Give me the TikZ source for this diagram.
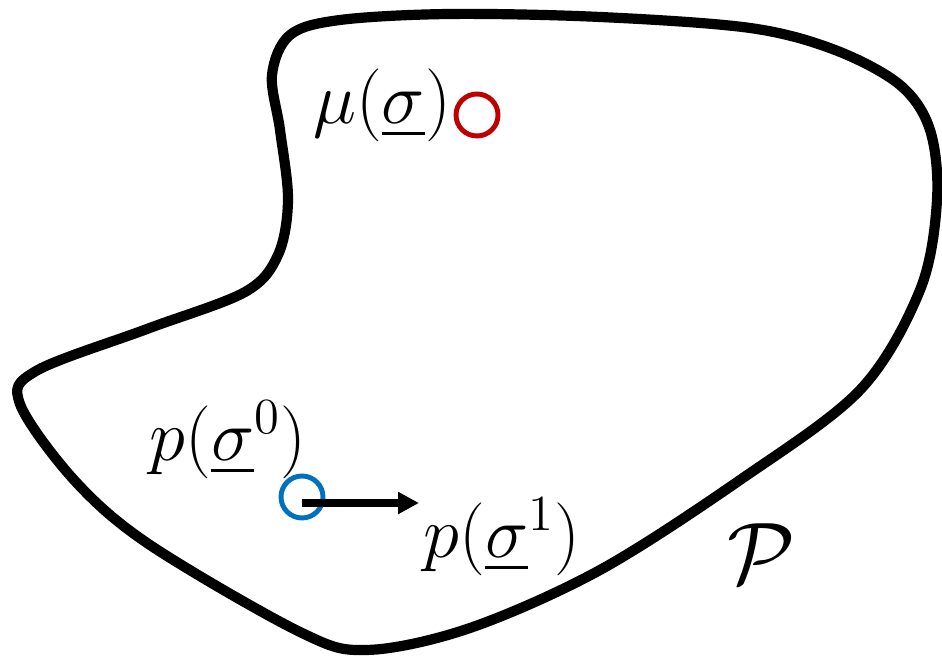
\documentclass[tikz,border=0pt]{standalone}
\usepackage{amsmath,amssymb}
\usetikzlibrary{positioning,arrows.meta}

\definecolor{darkred}{RGB}{192,0,0}
\definecolor{midblue}{RGB}{0,112,192}

\begin{document}
\begin{tikzpicture}[every node/.style={font=\fontsize{21}{25}\selectfont},
  marker/.style={circle, line width=1.4pt, minimum size=4.2mm, inner sep=0pt}]
\useasboundingbox (0,0) rectangle (9.42,6.59);

\draw[line width=2.9pt, line join=round] plot[smooth cycle, tension=0.55] coordinates {
(2.72,5.84) (2.90,6.24) (3.40,6.39) (4.50,6.45) (6.00,6.42) (7.50,6.31)
(8.35,6.09) (9.00,5.74) (9.30,5.29) (9.37,4.59) (9.20,3.69) (8.60,2.69)
(7.40,1.79) (6.00,0.89) (4.70,0.31) (3.67,0.09) (3.00,0.27) (1.50,1.14)
(0.75,1.78) (0.20,2.55) (0.36,2.88) (1.47,3.30) (2.45,3.67)
(2.78,4.04) (2.88,4.59) (2.80,5.29)};

\node[marker, draw=darkred] (muc) at (4.77,5.44) {};
\node[marker, draw=midblue] (p0c) at (3.02,1.62) {};
\coordinate (tip) at (4.19,1.56);

\node (mu) at (3.82,5.54) {$\mu(\underline{\sigma})$};
\node (p0) at (2.28,2.19) {$p(\underline{\sigma}^0)$};
\node (p1) at (5.02,1.22) {$p(\underline{\sigma}^1)$};
\node[font=\fontsize{27}{31}\selectfont] (P) at (7.61,1.05) {$\mathcal{P}$};

\draw[-{Triangle[length=2.1mm, width=2.1mm]}, line width=2.5pt] (p0c.center |- tip) -- (tip);
\end{tikzpicture}
\end{document}
